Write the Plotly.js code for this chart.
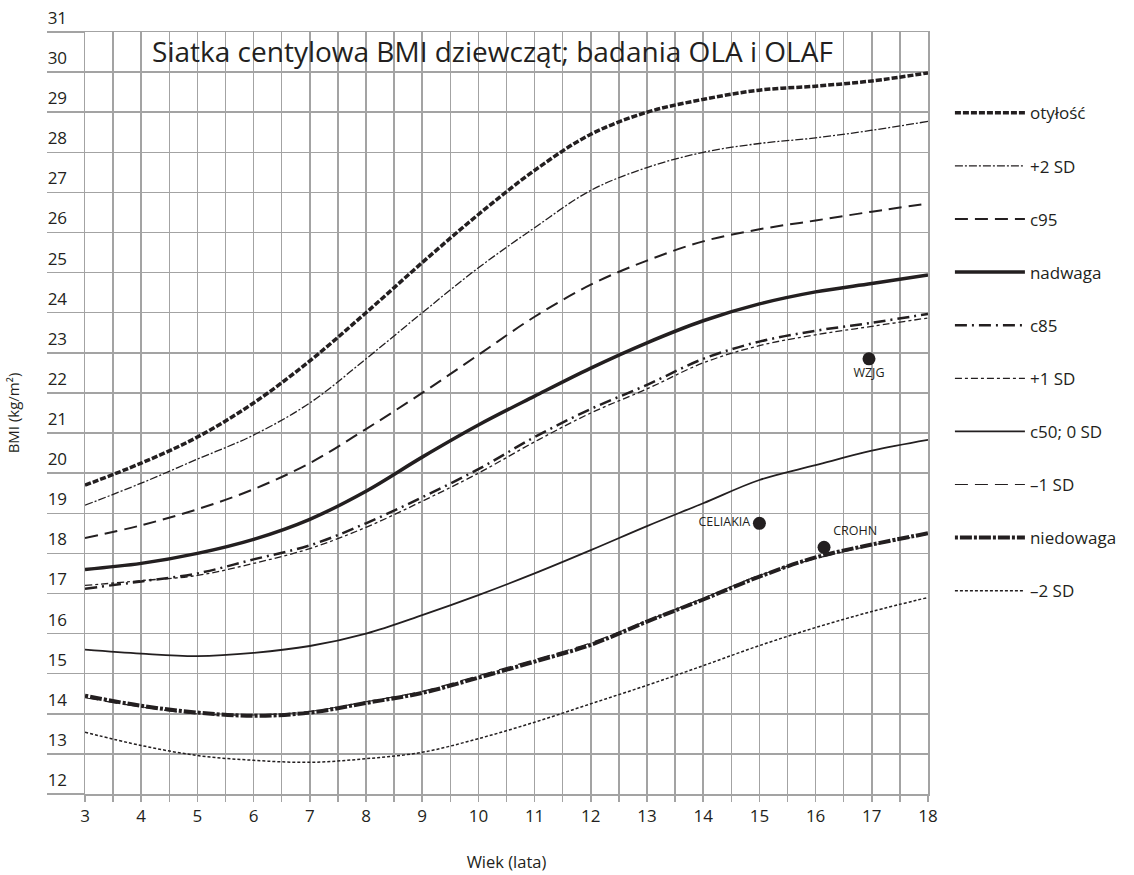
<!DOCTYPE html>
<html>
<head>
<meta charset="utf-8">
<script src="https://cdn.plot.ly/plotly-3.0.1.min.js"></script>
<style>html,body{margin:0;padding:0;background:#fff;}#chart{width:1134px;height:875px;}</style>
</head>
<body>
<div id="chart"></div>
<script>
// ---- data ----
const ages = [3,4,5,6,7,8,9,10,11,12,13,14,15,16,17,18];
const otylosc   = [19.70,20.25,20.90,21.75,22.80,24.00,25.25,26.45,27.55,28.45,29.00,29.32,29.55,29.65,29.78,29.98];
const plus2SD   = [19.20,19.75,20.35,20.95,21.75,22.85,24.00,25.12,26.12,27.05,27.62,28.00,28.22,28.36,28.55,28.77];
const c95       = [18.38,18.70,19.10,19.60,20.25,21.10,22.00,22.95,23.90,24.70,25.30,25.78,26.08,26.30,26.52,26.72];
const nadwaga   = [17.60,17.75,18.00,18.35,18.85,19.55,20.40,21.20,21.92,22.62,23.25,23.80,24.22,24.52,24.73,24.94];
const c85       = [17.12,17.30,17.50,17.85,18.20,18.75,19.40,20.10,20.90,21.60,22.20,22.85,23.28,23.55,23.75,23.97];
const plus1SD   = [17.20,17.32,17.45,17.75,18.12,18.65,19.30,20.00,20.78,21.50,22.10,22.75,23.18,23.45,23.66,23.87];
const c50       = [15.60,15.50,15.44,15.52,15.69,16.00,16.46,16.96,17.50,18.08,18.68,19.25,19.83,20.20,20.56,20.83];
const minus1SD  = [14.40,14.17,14.00,13.97,14.06,14.30,14.56,14.95,15.35,15.77,16.32,16.88,17.45,17.87,18.20,18.48];
const niedowaga = [14.45,14.20,14.03,13.95,14.03,14.27,14.52,14.90,15.30,15.72,16.30,16.85,17.42,17.90,18.22,18.50];
const minus2SD  = [13.54,13.21,12.96,12.84,12.79,12.88,13.04,13.38,13.79,14.25,14.71,15.20,15.70,16.15,16.55,16.90];

const seriesNames = ['otyłość','+2 SD','c95','nadwaga','c85','+1 SD','c50; 0 SD','–1 SD','niedowaga','–2 SD'];
const seriesValues = [otylosc, plus2SD, c95, nadwaga, c85, plus1SD, c50, minus1SD, niedowaga, minus2SD];

const pointAges = [16.95, 15.0, 16.15];
const pointBmi = [22.85, 18.75, 18.15];
const pointLabels = ['WZJG', 'CELIAKIA', 'CROHN'];

const yTicks = [12,13,14,15,16,17,18,19,20,21,22,23,24,25,26,27,28,29,30,31];
const xTicks = [3,4,5,6,7,8,9,10,11,12,13,14,15,16,17,18];

// ---- styles ----
const ink = '#231f20';
const grid = '#a3a3a3';
const styles = [
  {width:3.5, dash:'6px,2px'},
  {width:1.3, dash:'8px,2px,2px,2px'},
  {width:2.0, dash:'13px,7px'},
  {width:3.5, dash:'solid'},
  {width:2.5, dash:'12px,5px,2px,5px'},
  {width:1.3, dash:'7px,3px,3px,3px'},
  {width:1.8, dash:'solid'},
  {width:1.2, dash:'13px,7px'},
  {width:4.0, dash:'3px,2px,12px,2px'},
  {width:1.5, dash:'3px,2px'}
];

const traces = seriesNames.map((n, i) => ({
  type: 'scatter', mode: 'lines', name: n,
  x: ages, y: seriesValues[i],
  legendgroup: 'g' + i,
  line: {color: ink, width: styles[i].width, dash: styles[i].dash, shape: 'spline', smoothing: 1}
}));

traces.push({
  type: 'scatter', mode: 'markers+text', showlegend: false,
  x: pointAges, y: pointBmi, text: pointLabels,
  textposition: ['bottom center', 'middle left', 'top right'],
  textfont: {family: 'Open Sans, sans-serif', size: 12.5, color: ink},
  marker: {color: ink, size: 13}
});

const fontFam = 'Open Sans, sans-serif';
const layout = {
  width: 1134, height: 875,
  margin: {l: 85, r: 206, t: 32, b: 81},
  paper_bgcolor: '#fff', plot_bgcolor: '#fff',
  font: {family: fontFam, color: ink, size: 16},
  title: {
    text: 'Siatka centylowa BMI dziewcząt; badania OLA i OLAF',
    font: {family: fontFam, size: 28, color: ink},
    xref: 'paper', yref: 'paper', x: 0.4834, xanchor: 'center', y: 0.9738, yanchor: 'middle'
  },
  xaxis: {
    range: [3, 18], tickvals: xTicks, ticktext: xTicks.map(String),
    ticks: 'outside', ticklen: 6, tickwidth: 1.5, tickcolor: grid,
    showgrid: true, gridcolor: grid, gridwidth: 1.5, zeroline: false,
    showline: true, mirror: true, linecolor: grid, linewidth: 1.5,
    tickfont: {size: 17, color: ink},
    minor: {dtick: 0.5, tick0: 3, showgrid: true, gridcolor: grid, gridwidth: 1.5, ticks: 'outside', ticklen: 6, tickwidth: 1.5, tickcolor: grid},
    title: {text: 'Wiek (lata)', font: {size: 16.5, color: ink}, standoff: 30}
  },
  yaxis: {
    range: [12, 31], tickvals: yTicks, ticktext: yTicks.map(String),
    ticks: 'outside', ticklen: 37, tickwidth: 1.5, tickcolor: grid,
    ticklabelstandoff: -24, ticklabelshift: -14,
    showgrid: true, gridcolor: grid, gridwidth: 1.5, zeroline: false,
    showline: true, mirror: true, linecolor: grid, linewidth: 1.5,
    tickfont: {size: 17, color: ink},
    title: {text: 'BMI (kg/m²)', font: {size: 15, color: ink}, standoff: 24}
  },
  legend: {
    x: 1.026, xanchor: 'left', y: 0.917, yanchor: 'top',
    font: {size: 17, color: ink}, tracegroupgap: 28, itemwidth: 70,
    bgcolor: 'rgba(0,0,0,0)'
  },
  showlegend: true
};

Plotly.newPlot('chart', traces, layout, {displayModeBar: false, staticPlot: true});
</script>
</body>
</html>
